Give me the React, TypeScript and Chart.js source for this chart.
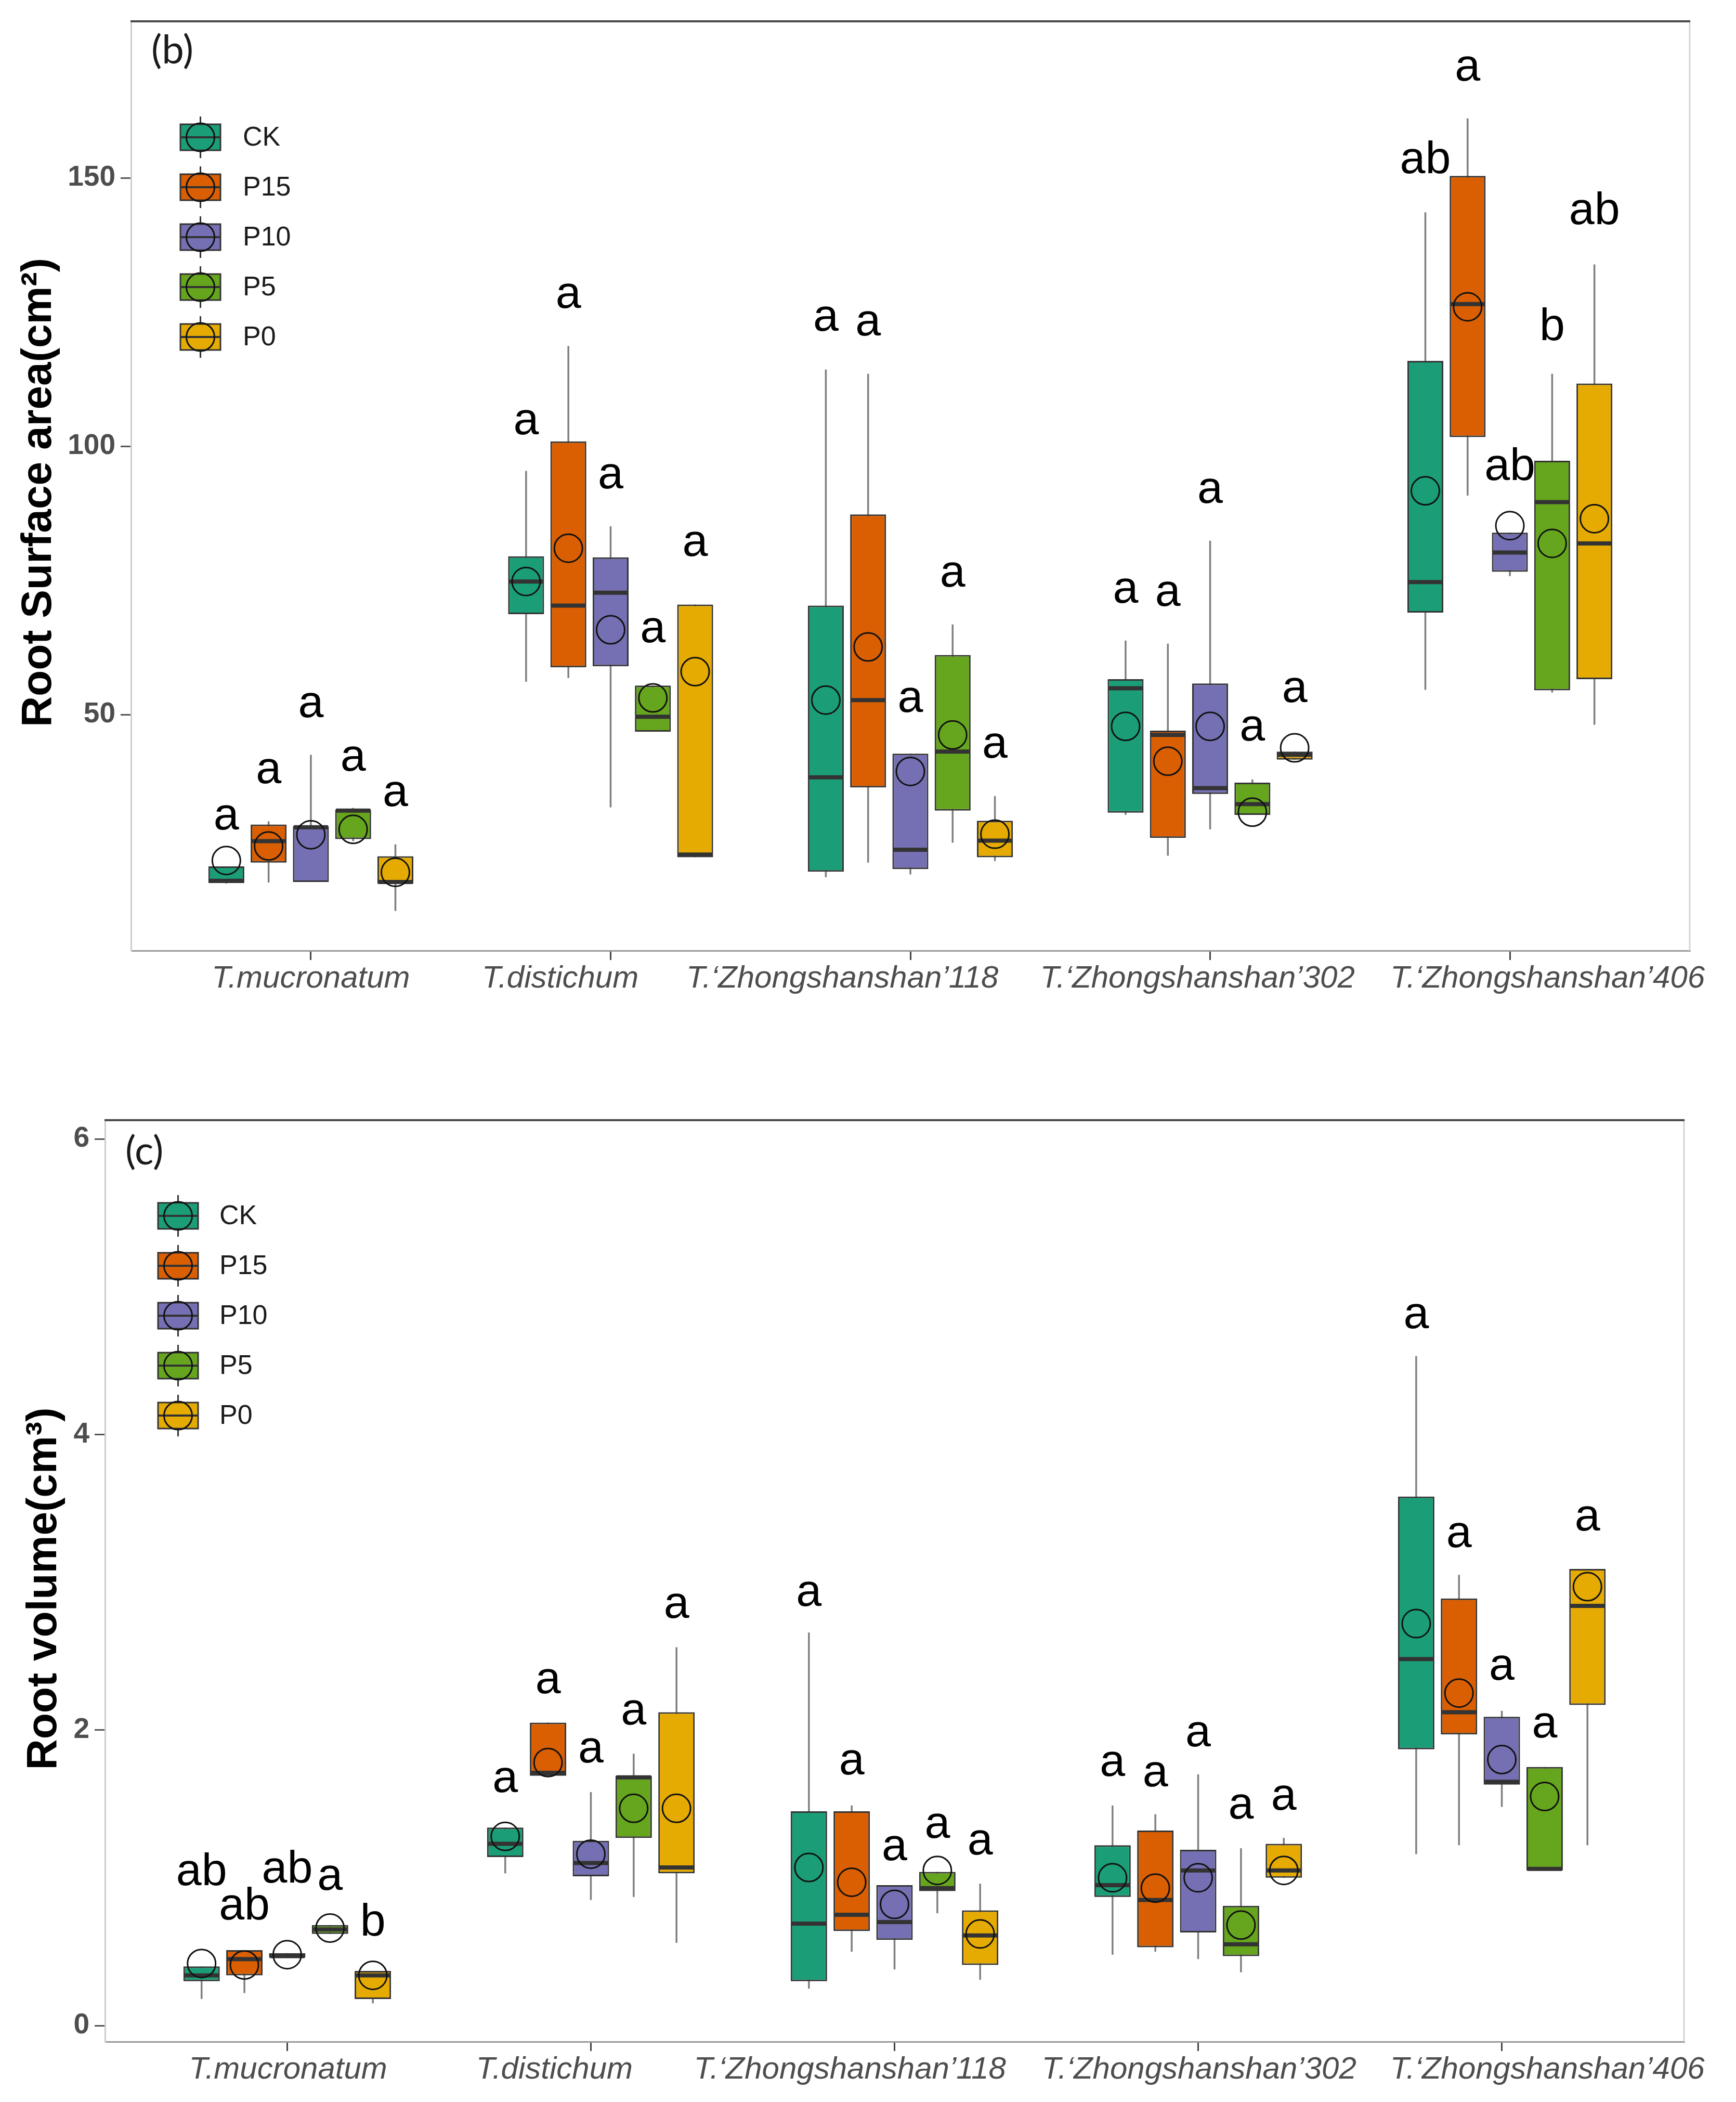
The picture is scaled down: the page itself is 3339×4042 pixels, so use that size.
import React, { useEffect, useRef } from "react";
import { Chart, registerables } from "chart.js";
Chart.register(...registerables);

// ---------------- data ----------------
const CATEGORIES = [
  "T.mucronatum",
  "T.distichum",
  "T.\u2018Zhongshanshan\u2019118",
  "T.\u2018Zhongshanshan\u2019302",
  "T.\u2018Zhongshanshan\u2019406",
];
const TREATMENTS = ["CK", "P15", "P10", "P5", "P0"];
const COLORS = ["#1B9E77", "#D95F02", "#7570B3", "#66A61E", "#E6AB02"];

// Panel (b) Root surface area — rows: CK, P15, P10, P5, P0; columns: species
const SA_LOW = [
  [18.5, 56.1, 19.7, 31.3, 54.6],
  [18.7, 56.8, 22.4, 23.7, 90.8],
  [18.8, 32.7, 20.2, 28.6, 75.8],
  [26.4, 46.8, 26.1, 31.3, 54.1],
  [13.4, 23.4, 22.7, 41.6, 48.1],
];
const SA_Q1 = [
  [18.6, 68.7, 20.7, 31.7, 69.0],
  [22.4, 58.8, 36.4, 27.0, 101.7],
  [18.8, 59.0, 21.2, 35.2, 76.6],
  [26.8, 46.8, 32.1, 31.3, 54.5],
  [18.5, 23.4, 23.4, 41.6, 56.6],
];
const SA_MED = [
  [19.0, 74.8, 38.3, 54.9, 74.7],
  [26.4, 70.3, 52.7, 46.2, 126.5],
  [29.0, 72.7, 24.8, 36.3, 80.2],
  [32.1, 49.6, 43.1, 33.3, 89.6],
  [18.8, 23.9, 26.5, 42.5, 81.9],
];
const SA_Q3 = [
  [21.7, 79.5, 70.3, 56.6, 115.9],
  [29.5, 100.9, 87.3, 47.0, 150.4],
  [29.2, 79.3, 42.7, 55.8, 83.9],
  [32.3, 55.4, 61.1, 37.3, 97.3],
  [23.6, 70.5, 30.2, 43.1, 111.7],
];
const SA_HIGH = [
  [21.7, 95.4, 114.3, 63.8, 143.6],
  [30.1, 118.7, 113.5, 63.2, 161.1],
  [42.5, 85.1, 42.7, 82.4, 83.9],
  [32.6, 55.4, 66.8, 37.9, 113.5],
  [25.8, 70.5, 34.8, 43.1, 133.9],
];
const SA_MEAN = [
  [22.8, 74.8, 52.7, 47.8, 91.7],
  [25.5, 81.0, 62.6, 41.3, 126.0],
  [27.6, 65.8, 39.4, 47.8, 85.2],
  [28.6, 53.1, 46.2, 31.8, 81.9],
  [20.6, 58.0, 27.7, 43.8, 86.5],
];
const SA_LETTER = [
  ["a", "a", "a", "a", "ab"],
  ["a", "a", "a", "a", "a"],
  ["a", "a", "a", "a", "ab"],
  ["a", "a", "a", "a", "b"],
  ["a", "a", "a", "a", "ab"],
];
const SA_LETTER_Y = [
  [30.8, 104.5, 123.8, 73.1, 153.1],
  [39.4, 128.0, 122.9, 72.5, 170.4],
  [51.7, 94.4, 52.7, 91.7, 95.9],
  [41.8, 65.7, 76.1, 47.4, 122.0],
  [35.2, 81.8, 44.2, 54.6, 143.6],
];
const SA_TICKS = [50, 100, 150];

// Panel (c) Root volume
const RV_LOW = [
  [0.18, 1.03, 0.25, 0.48, 1.16],
  [0.22, 1.69, 0.5, 0.5, 1.22],
  [0.46, 0.85, 0.38, 0.45, 1.48],
  [0.62, 0.87, 0.76, 0.36, 1.05],
  [0.15, 0.56, 0.31, 1.0, 1.22],
];
const RV_Q1 = [
  [0.3, 1.14, 0.3, 0.87, 1.87],
  [0.34, 1.69, 0.64, 0.53, 1.97],
  [0.46, 1.01, 0.58, 0.63, 1.63],
  [0.62, 1.27, 0.91, 0.47, 1.05],
  [0.18, 1.03, 0.41, 1.0, 2.17],
];
const RV_MED = [
  [0.34, 1.23, 0.69, 0.95, 2.48],
  [0.45, 1.71, 0.75, 0.85, 2.12],
  [0.47, 1.1, 0.7, 1.05, 1.65],
  [0.65, 1.68, 0.93, 0.55, 1.06],
  [0.34, 1.07, 0.61, 1.05, 2.84],
];
const RV_Q3 = [
  [0.4, 1.34, 1.45, 1.22, 3.58],
  [0.51, 2.05, 1.45, 1.32, 2.89],
  [0.49, 1.25, 0.95, 1.19, 2.09],
  [0.68, 1.69, 1.04, 0.81, 1.75],
  [0.37, 2.12, 0.78, 1.23, 3.09],
];
const RV_HIGH = [
  [0.4, 1.34, 2.66, 1.49, 4.53],
  [0.51, 2.05, 1.49, 1.43, 3.05],
  [0.49, 1.58, 0.95, 1.7, 2.13],
  [0.68, 1.84, 1.04, 1.2, 1.75],
  [0.37, 2.56, 0.96, 1.27, 3.09],
];
const RV_MEAN = [
  [0.42, 1.28, 1.07, 1.0, 2.72],
  [0.41, 1.78, 0.97, 0.93, 2.25],
  [0.48, 1.16, 0.82, 1.0, 1.8],
  [0.66, 1.47, 1.05, 0.68, 1.55],
  [0.34, 1.47, 0.62, 1.05, 2.97],
];
const RV_LETTER = [
  ["ab", "a", "a", "a", "a"],
  ["ab", "a", "a", "a", "a"],
  ["ab", "a", "a", "a", "a"],
  ["a", "a", "a", "a", "a"],
  ["b", "a", "a", "a", "a"],
];
const RV_LETTER_Y = [
  [1.03, 1.66, 2.92, 1.77, 4.8],
  [0.8, 2.33, 1.78, 1.7, 3.32],
  [1.05, 1.86, 1.2, 1.97, 2.42],
  [1.0, 2.12, 1.35, 1.48, 2.03],
  [0.69, 2.84, 1.24, 1.54, 3.43],
];
const RV_TICKS = [0, 2, 4, 6];

// ---------------- styling / layout ----------------
const W = 3339;
const FONT = "'Liberation Sans', Arial, Helvetica, sans-serif";
const CAT_PCT = 0.705;
const BAR_PCT = 0.85;
// horizontal nudges of the species labels (axis units), as arranged in the figure
const LABEL_SHIFT_B = [0, -0.168, -0.227, -0.042, 0.126];
const LABEL_SHIFT_C = [0.003, -0.12, -0.147, 0.003, 0.15];

type Panel = {
  low: number[][]; q1: number[][]; med: number[][]; q3: number[][]; high: number[][];
  mean: number[][]; letter: string[][]; letterY: number[][]; ticks: number[];
  labelShift: number[];
  yMin: number; yMax: number;
  canvasTop: number; canvasH: number; areaTop: number; areaBottom: number;
  left: number; right: number;
  title: string; titleX: number; titleY: number;
  tag: string; tagX: number; tagY: number;
  legX: number; legY: number; legTextX: number;
};

const PANEL_B: Panel = {
  low: SA_LOW, q1: SA_Q1, med: SA_MED, q3: SA_Q3, high: SA_HIGH,
  mean: SA_MEAN, letter: SA_LETTER, letterY: SA_LETTER_Y, ticks: SA_TICKS,
  labelShift: LABEL_SHIFT_B,
  yMin: 6, yMax: 179.2,
  canvasTop: -40, canvasH: 2070, areaTop: 81, areaBottom: 1868,
  left: 252, right: 3250,
  title: "Root Surface area(cm\u00B2)", titleX: 98, titleY: 987,
  tag: "(b)", tagX: 291, tagY: 137,
  legX: 347, legY: 304, legTextX: 467,
};
const PANEL_C: Panel = {
  low: RV_LOW, q1: RV_Q1, med: RV_MED, q3: RV_Q3, high: RV_HIGH,
  mean: RV_MEAN, letter: RV_LETTER, letterY: RV_LETTER_Y, ticks: RV_TICKS,
  labelShift: LABEL_SHIFT_C,
  yMin: -0.109, yMax: 6.127,
  canvasTop: 2030, canvasH: 2012, areaTop: 124, areaBottom: 1896,
  left: 202, right: 3239,
  title: "Root volume(cm\u00B3)", titleX: 108, titleY: 1025,
  tag: "(c)", tagX: 241, tagY: 184,
  legX: 304, legY: 308, legTextX: 422,
};

function makeExtras(p: Panel) {
  return {
    id: "boxExtras",
    beforeDatasetsDraw(chart: any) {
      const ctx = chart.ctx;
      const y = chart.scales.y;
      ctx.save();
      ctx.strokeStyle = "#7f7f7f";
      ctx.lineWidth = 3.5;
      for (let i = 0; i < TREATMENTS.length; i++) {
        const meta = chart.getDatasetMeta(i);
        meta.data.forEach((el: any, j: number) => {
          ctx.beginPath();
          ctx.moveTo(el.x, y.getPixelForValue(p.low[i][j]));
          ctx.lineTo(el.x, y.getPixelForValue(p.high[i][j]));
          ctx.stroke();
        });
      }
      ctx.restore();
    },
    afterDatasetDraw(chart: any, args: any) {
      const i = args.index;
      if (i >= TREATMENTS.length) return;
      const ctx = chart.ctx;
      const y = chart.scales.y;
      ctx.save();
      ctx.strokeStyle = "#333333";
      ctx.lineWidth = 8;
      args.meta.data.forEach((el: any, j: number) => {
        const py = y.getPixelForValue(p.med[i][j]);
        ctx.beginPath();
        ctx.moveTo(el.x - el.width / 2 + 1.5, py);
        ctx.lineTo(el.x + el.width / 2 - 1.5, py);
        ctx.stroke();
      });
      ctx.restore();
    },
    afterDatasetsDraw(chart: any) {
      const ctx = chart.ctx;
      const y = chart.scales.y;
      ctx.save();
      ctx.fillStyle = "#000";
      ctx.font = `88px ${FONT}`;
      ctx.textAlign = "center";
      ctx.textBaseline = "alphabetic";
      for (let i = 0; i < TREATMENTS.length; i++) {
        const meta = chart.getDatasetMeta(i);
        meta.data.forEach((el: any, j: number) => {
          ctx.fillText(p.letter[i][j], el.x, y.getPixelForValue(p.letterY[i][j]) + 23);
        });
      }
      ctx.restore();
    },
    afterDraw(chart: any) {
      const ctx = chart.ctx;
      const a = chart.chartArea;
      const xs = chart.scales.x;
      ctx.save();
      // right border
      ctx.strokeStyle = "#d4d4d4";
      ctx.lineWidth = 3;
      ctx.beginPath();
      ctx.moveTo(a.right, a.top);
      ctx.lineTo(a.right, a.bottom);
      ctx.stroke();
      // top line
      ctx.strokeStyle = "#4a4a4a";
      ctx.lineWidth = 4;
      ctx.beginPath();
      ctx.moveTo(a.left - 1, a.top);
      ctx.lineTo(a.right + 1, a.top);
      ctx.stroke();
      // species labels
      ctx.font = `italic 60px ${FONT}`;
      ctx.fillStyle = "#4d4d4d";
      ctx.textAlign = "center";
      ctx.textBaseline = "top";
      CATEGORIES.forEach((c, j) => {
        ctx.fillText(c, xs.getPixelForValue(j + 1 + p.labelShift[j]), a.bottom + 24);
      });
      // y title
      ctx.save();
      ctx.translate(p.titleX, p.titleY);
      ctx.rotate(-Math.PI / 2);
      ctx.font = `bold 82px ${FONT}`;
      ctx.fillStyle = "#000";
      ctx.textAlign = "center";
      ctx.textBaseline = "alphabetic";
      ctx.fillText(p.title, 0, 0);
      ctx.restore();
      // panel tag
      ctx.font = `76px Lato, 'Open Sans', sans-serif`;
      ctx.fillStyle = "#1a1a1a";
      ctx.textAlign = "left";
      ctx.textBaseline = "middle";
      ctx.fillText(p.tag, p.tagX, p.tagY);
      // legend
      const bw = 77, bh = 50;
      TREATMENTS.forEach((t, i) => {
        const cy = p.legY + i * 96;
        const cx = p.legX + bw / 2;
        ctx.strokeStyle = "#333";
        ctx.lineWidth = 3;
        ctx.beginPath();
        ctx.moveTo(cx, cy - 40);
        ctx.lineTo(cx, cy + 40);
        ctx.stroke();
        ctx.fillStyle = COLORS[i];
        ctx.fillRect(p.legX, cy - bh / 2, bw, bh);
        ctx.strokeRect(p.legX, cy - bh / 2, bw, bh);
        ctx.lineWidth = 4;
        ctx.beginPath();
        ctx.moveTo(p.legX, cy);
        ctx.lineTo(p.legX + bw, cy);
        ctx.stroke();
        ctx.strokeStyle = "#111";
        ctx.lineWidth = 3;
        ctx.beginPath();
        ctx.arc(cx, cy, 27, 0, Math.PI * 2);
        ctx.stroke();
        ctx.fillStyle = "#1a1a1a";
        ctx.font = `52px ${FONT}`;
        ctx.textAlign = "left";
        ctx.textBaseline = "middle";
        ctx.fillText(t, p.legTextX, cy + 2);
      });
      ctx.restore();
    },
  };
}

function makeChart(canvas: HTMLCanvasElement, p: Panel) {
  const slot = CAT_PCT / TREATMENTS.length;
  const datasets: any[] = [];
  TREATMENTS.forEach((t, i) => {
    datasets.push({
      type: "bar",
      label: t,
      order: 1,
      data: CATEGORIES.map((_, j) => ({ x: j + 1, y: [p.q1[i][j], p.q3[i][j]] })),
      backgroundColor: COLORS[i],
      borderColor: "#333333",
      borderWidth: 3,
      borderSkipped: false,
      barPercentage: BAR_PCT,
      categoryPercentage: CAT_PCT,
    });
  });
  TREATMENTS.forEach((t, i) => {
    datasets.push({
      type: "scatter",
      label: t + " mean",
      order: 0,
      data: CATEGORIES.map((_, j) => ({ x: j + 1 + (i - 2) * slot, y: p.mean[i][j] })),
      pointStyle: "circle",
      pointRadius: 27,
      pointBorderWidth: 3,
      pointBorderColor: "#111111",
      pointBackgroundColor: "rgba(0,0,0,0)",
      showLine: false,
    });
  });
  const xAxisH = p.canvasH - p.areaBottom;
  return new Chart(canvas, {
    type: "bar",
    data: { datasets },
    plugins: [makeExtras(p)],
    options: {
      responsive: false,
      animation: false,
      devicePixelRatio: 1,
      events: [],
      layout: { padding: { left: 0, right: W - p.right, top: p.areaTop, bottom: 0 } },
      plugins: { legend: { display: false }, tooltip: { enabled: false } },
      scales: {
        x: {
          type: "linear",
          min: 0.4,
          max: 5.6,
          offset: false,
          afterBuildTicks: (s: any) => {
            s.ticks = CATEGORIES.map((_, j) => ({ value: j + 1 }));
          },
          afterFit: (s: any) => {
            s.height = xAxisH;
          },
          ticks: { display: false },
          grid: {
            display: true,
            drawOnChartArea: false,
            drawTicks: true,
            tickLength: 18,
            tickWidth: 3,
            tickColor: "#444",
            color: "#444",
            lineWidth: 3,
            offset: false,
          },
          border: { display: true, color: "#9a9a9a", width: 3 },
        },
        y: {
          type: "linear",
          min: p.yMin,
          max: p.yMax,
          afterBuildTicks: (s: any) => {
            s.ticks = p.ticks.map((v) => ({ value: v }));
          },
          afterFit: (s: any) => {
            s.width = p.left;
          },
          ticks: {
            callback: (v: any) => String(v),
            font: { family: FONT, size: 55, weight: "bold" },
            color: "#4d4d4d",
            padding: 10,
          },
          grid: {
            display: true,
            drawOnChartArea: false,
            drawTicks: true,
            tickLength: 20,
            tickWidth: 3,
            tickColor: "#555",
            color: "#555",
            lineWidth: 3,
          },
          border: { display: true, color: "#cccccc", width: 3 },
        },
      },
    } as any,
  });
}

export default function App() {
  const refB = useRef<HTMLCanvasElement>(null);
  const refC = useRef<HTMLCanvasElement>(null);
  useEffect(() => {
    const c1 = makeChart(refB.current!, PANEL_B);
    const c2 = makeChart(refC.current!, PANEL_C);
    return () => {
      c1.destroy();
      c2.destroy();
    };
  }, []);
  return (
    <div
      style={{
        position: "absolute",
        left: 0,
        top: 0,
        width: W,
        height: 4042,
        background: "#fff",
        overflow: "hidden",
      }}
    >
      <canvas
        ref={refB}
        width={W}
        height={PANEL_B.canvasH}
        style={{ position: "absolute", left: 0, top: PANEL_B.canvasTop, width: W, height: PANEL_B.canvasH }}
      />
      <canvas
        ref={refC}
        width={W}
        height={PANEL_C.canvasH}
        style={{ position: "absolute", left: 0, top: PANEL_C.canvasTop, width: W, height: PANEL_C.canvasH }}
      />
    </div>
  );
}
